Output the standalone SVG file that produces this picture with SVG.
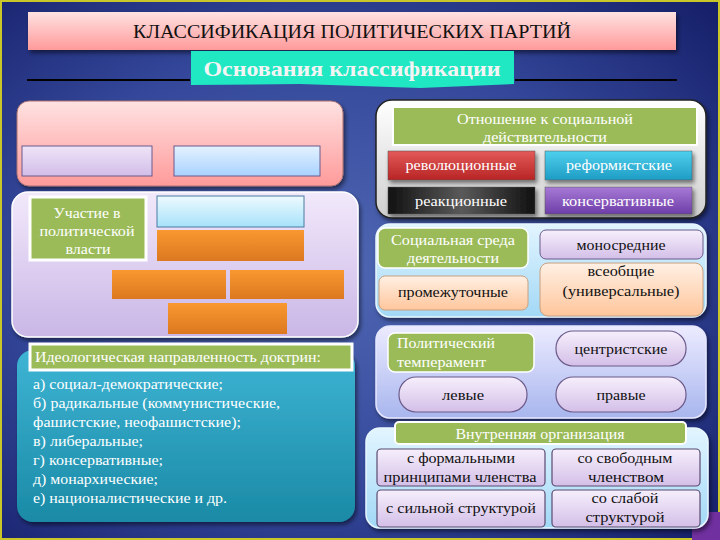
<svg xmlns="http://www.w3.org/2000/svg" width="720" height="540" viewBox="0 0 720 540">
<defs>
<radialGradient id="bg" cx="45%" cy="50%" r="75%">
<stop offset="0" stop-color="#5068b4"/>
<stop offset="0.55" stop-color="#34479a"/>
<stop offset="1" stop-color="#141d66"/>
</radialGradient>
<linearGradient id="gPink" x1="0" y1="0" x2="0" y2="1"><stop offset="0" stop-color="#ffe2e2"/><stop offset="1" stop-color="#ff9a9a"/></linearGradient>
<linearGradient id="gLav" x1="0" y1="0" x2="0" y2="1"><stop offset="0" stop-color="#f2e9fb"/><stop offset="1" stop-color="#c9b6e6"/></linearGradient>
<linearGradient id="gLavS" x1="0" y1="0" x2="0" y2="1"><stop offset="0" stop-color="#efe4f7"/><stop offset="1" stop-color="#d2bde9"/></linearGradient>
<linearGradient id="gBlueS" x1="0" y1="0" x2="0" y2="1"><stop offset="0" stop-color="#e4f2ff"/><stop offset="1" stop-color="#a9d2ff"/></linearGradient>
<linearGradient id="gCyanS" x1="0" y1="0" x2="0" y2="1"><stop offset="0" stop-color="#eefaff"/><stop offset="1" stop-color="#a6e2fa"/></linearGradient>
<linearGradient id="gOrange" x1="0" y1="0" x2="0" y2="1"><stop offset="0" stop-color="#f99830"/><stop offset="1" stop-color="#dc7820"/></linearGradient>
<linearGradient id="gTeal" x1="0" y1="0" x2="0" y2="1"><stop offset="0" stop-color="#3eb4d4"/><stop offset="1" stop-color="#1a8aa6"/></linearGradient>
<linearGradient id="gGrey" x1="0" y1="0" x2="0" y2="1"><stop offset="0" stop-color="#ffffff"/><stop offset="1" stop-color="#cfcfcf"/></linearGradient>
<linearGradient id="gSky" x1="0" y1="0" x2="0" y2="1"><stop offset="0" stop-color="#e2f5ff"/><stop offset="1" stop-color="#a2d8f6"/></linearGradient>
<linearGradient id="gPeri" x1="0" y1="0" x2="0" y2="1"><stop offset="0" stop-color="#ecebff"/><stop offset="1" stop-color="#a8b6ee"/></linearGradient>
<linearGradient id="gRed" x1="0" y1="0" x2="0" y2="1"><stop offset="0" stop-color="#e35a5a"/><stop offset="1" stop-color="#b82424"/></linearGradient>
<linearGradient id="gCyan" x1="0" y1="0" x2="0" y2="1"><stop offset="0" stop-color="#4fd0ee"/><stop offset="1" stop-color="#1e9cc4"/></linearGradient>
<linearGradient id="gBlack" x1="0" y1="0" x2="1" y2="0"><stop offset="0" stop-color="#111"/><stop offset="0.5" stop-color="#5a5a5a"/><stop offset="1" stop-color="#111"/></linearGradient>
<linearGradient id="gPurple" x1="0" y1="0" x2="0" y2="1"><stop offset="0" stop-color="#a77ad6"/><stop offset="1" stop-color="#6e3ea8"/></linearGradient>
<linearGradient id="gPeach" x1="0" y1="0" x2="0" y2="1"><stop offset="0" stop-color="#fff0e4"/><stop offset="1" stop-color="#ffc69c"/></linearGradient>
<linearGradient id="gPill" x1="0" y1="0" x2="0" y2="1"><stop offset="0" stop-color="#f6effc"/><stop offset="1" stop-color="#d4bfe8"/></linearGradient>
<filter id="sh" x="-10%" y="-10%" width="120%" height="130%"><feDropShadow dx="2" dy="3" stdDeviation="2" flood-color="#000" flood-opacity="0.5"/></filter>
</defs>
<style>
.t{font-family:"Liberation Serif","Times New Roman",serif;font-size:15px;}
.w{fill:#ffffff;}
.k{fill:#111111;}
.c{text-anchor:middle;}
.green{fill:#9bbb59;stroke:#ffffff;stroke-width:3;}
.btn{stroke:#555;stroke-width:0.5;}
.lav{fill:url(#gPill);stroke:#6b5a8a;stroke-width:1.2;}
.title{font-family:"Liberation Serif","Times New Roman",serif;font-size:19px;fill:#111;text-anchor:middle;}
.sub{font-family:"Liberation Serif","Times New Roman",serif;font-size:22px;font-weight:bold;fill:#f4f4f4;text-anchor:middle;}
</style>

<rect x="0" y="0" width="720" height="540" fill="url(#bg)"/>
<rect x="1" y="1" width="718" height="538" fill="none" stroke="#c9c62a" stroke-width="2"/>
<rect x="692" y="512" width="28" height="28" fill="#7030a0"/>

<g id="title">
<rect x="28" y="12" width="648" height="38" fill="url(#gPink)" filter="url(#sh)"/>
<text class="title" x="352" y="38" textLength="438" lengthAdjust="spacingAndGlyphs">КЛАССИФИКАЦИЯ ПОЛИТИЧЕСКИХ ПАРТИЙ</text>
</g>

<g id="connectors">
<path d="M27,80 L190,80 M515,80 L677,80" stroke="#000" stroke-width="2" fill="none"/>
<path d="M112,299 L226,299 M230,299 L344,299 M112,334 L287,334" stroke="#222" stroke-width="1.2" fill="none"/>
</g>

<g id="subtitle">
<path d="M191,51 L514,51 L514,84 L420,88 L300,84 L191,85 Z" fill="#1fe8c2"/>
<text class="sub" x="352" y="76" textLength="297" lengthAdjust="spacingAndGlyphs">Основания классификации</text>
</g>

<g id="topleft">
<rect x="17" y="101" width="326" height="85" rx="12" fill="url(#gPink)" stroke="#a87070" stroke-width="1" filter="url(#sh)"/>
<rect x="22" y="146" width="130" height="30" fill="url(#gLavS)" stroke="#6a5a8c" stroke-width="1"/>
<rect x="174" y="146" width="146" height="30" fill="url(#gBlueS)" stroke="#6a5a8c" stroke-width="1"/>
</g>

<g id="participation">
<rect x="12" y="192" width="346" height="145" rx="16" fill="url(#gLav)" stroke="#ffffff" stroke-width="1.5" filter="url(#sh)"/>
<rect x="30" y="197" width="116" height="63" class="green"/>
<text class="t w c" x="87" y="218" textLength="67" lengthAdjust="spacingAndGlyphs">Участие в</text>
<text class="t w c" x="87" y="236" textLength="95" lengthAdjust="spacingAndGlyphs">политической</text>
<text class="t w c" x="88" y="254" textLength="45" lengthAdjust="spacingAndGlyphs">власти</text>
<rect x="157" y="196" width="147" height="31" fill="url(#gCyanS)" stroke="#4a7aa0" stroke-width="1"/>
<rect x="157" y="230" width="147" height="31" fill="url(#gOrange)"/>
<rect x="112" y="270" width="114" height="29" fill="url(#gOrange)"/>
<rect x="230" y="270" width="114" height="29" fill="url(#gOrange)"/>
<rect x="168" y="303" width="119" height="31" fill="url(#gOrange)"/>
</g>

<g id="ideology">
<rect x="17" y="350" width="338" height="172" rx="16" fill="url(#gTeal)" filter="url(#sh)"/>
<rect x="30" y="344" width="322" height="26" class="green"/>
<text class="t w" x="35" y="362" textLength="286" lengthAdjust="spacingAndGlyphs">Идеологическая направленность доктрин:</text>
<text class="t w" x="33" y="389" textLength="190" lengthAdjust="spacingAndGlyphs">а) социал-демократические;</text>
<text class="t w" x="33" y="408" textLength="247" lengthAdjust="spacingAndGlyphs">б) радикальные (коммунистические,</text>
<text class="t w" x="33" y="427" textLength="208" lengthAdjust="spacingAndGlyphs">фашистские, неофашистские);</text>
<text class="t w" x="33" y="446" textLength="110" lengthAdjust="spacingAndGlyphs">в) либеральные;</text>
<text class="t w" x="33" y="465" textLength="130" lengthAdjust="spacingAndGlyphs">г) консервативные;</text>
<text class="t w" x="33" y="484" textLength="125" lengthAdjust="spacingAndGlyphs">д) монархические;</text>
<text class="t w" x="33" y="503" textLength="194" lengthAdjust="spacingAndGlyphs">е) националистические и др.</text>
</g>

<g id="attitude">
<rect x="376" y="100" width="330" height="118" rx="16" fill="url(#gGrey)" stroke="#222" stroke-width="1.5" filter="url(#sh)"/>
<rect x="393" y="107" width="304" height="38" fill="#9bbb59" stroke="#ffffff" stroke-width="2"/>
<text class="t w c" x="545" y="124" textLength="176" lengthAdjust="spacingAndGlyphs">Отношение к социальной</text>
<text class="t w c" x="545" y="142" textLength="124" lengthAdjust="spacingAndGlyphs">действительности</text>
<rect x="388" y="151" width="147" height="29" fill="url(#gRed)" class="btn" filter="url(#sh)"/>
<text class="t w c" x="461" y="170" textLength="111" lengthAdjust="spacingAndGlyphs">революционные</text>
<rect x="545" y="151" width="147" height="29" fill="url(#gCyan)" class="btn" filter="url(#sh)"/>
<text class="t w c" x="619" y="170" textLength="106" lengthAdjust="spacingAndGlyphs">реформистские</text>
<rect x="388" y="187" width="147" height="27" fill="url(#gBlack)" class="btn" filter="url(#sh)"/>
<text class="t w c" x="461" y="206" textLength="92" lengthAdjust="spacingAndGlyphs">реакционные</text>
<rect x="545" y="187" width="147" height="27" fill="url(#gPurple)" class="btn" filter="url(#sh)"/>
<text class="t w c" x="618" y="206" textLength="112" lengthAdjust="spacingAndGlyphs">консервативные</text>
</g>

<g id="social">
<rect x="376" y="224" width="330" height="93" rx="14" fill="url(#gSky)" stroke="#e8f6ff" stroke-width="1.5" filter="url(#sh)"/>
<rect x="378" y="228" width="150" height="40" rx="7" fill="#9bbb59" stroke="#ffffff" stroke-width="1.5"/>
<text class="t w c" x="453" y="245" textLength="124" lengthAdjust="spacingAndGlyphs">Социальная среда</text>
<text class="t w c" x="453" y="263" textLength="92" lengthAdjust="spacingAndGlyphs">деятельности</text>
<rect x="540" y="230" width="163" height="29" rx="6" fill="url(#gPill)" stroke="#6b5a8a" stroke-width="1"/>
<text class="t k c" x="621" y="250" textLength="89" lengthAdjust="spacingAndGlyphs">моносредние</text>
<rect x="379" y="276" width="149" height="34" rx="6" fill="url(#gPeach)" stroke="#c8a080" stroke-width="1"/>
<text class="t k c" x="453" y="297" textLength="110" lengthAdjust="spacingAndGlyphs">промежуточные</text>
<rect x="540" y="263" width="163" height="53" rx="8" fill="url(#gPeach)" stroke="#c8a080" stroke-width="1"/>
<text class="t k c" x="621" y="276" textLength="67" lengthAdjust="spacingAndGlyphs">всеобщие</text>
<text class="t k c" x="621" y="296" textLength="117" lengthAdjust="spacingAndGlyphs">(универсальные)</text>
</g>

<g id="temperament">
<rect x="376" y="326" width="330" height="92" rx="14" fill="url(#gPeri)" stroke="#e6e6ff" stroke-width="1.5" filter="url(#sh)"/>
<rect x="388" y="333" width="146" height="39" rx="7" fill="#9bbb59" stroke="#ffffff" stroke-width="1.5"/>
<text class="t w" x="397" y="348" textLength="98" lengthAdjust="spacingAndGlyphs">Политический</text>
<text class="t w" x="397" y="367" textLength="89" lengthAdjust="spacingAndGlyphs">темперамент</text>
<rect x="556" y="331" width="130" height="35" rx="17" class="lav"/>
<text class="t k c" x="621" y="354" textLength="93" lengthAdjust="spacingAndGlyphs">центристские</text>
<rect x="399" y="377" width="128" height="35" rx="17" class="lav"/>
<text class="t k c" x="463" y="400" textLength="42" lengthAdjust="spacingAndGlyphs">левые</text>
<rect x="556" y="377" width="130" height="35" rx="17" class="lav"/>
<text class="t k c" x="621" y="400" textLength="49" lengthAdjust="spacingAndGlyphs">правые</text>
</g>

<g id="organization">
<rect x="366" y="428" width="342" height="100" rx="14" fill="url(#gSky)" stroke="#e8f6ff" stroke-width="1.5" filter="url(#sh)"/>
<rect x="395" y="422" width="291" height="22" rx="4" fill="#9bbb59" stroke="#ffffff" stroke-width="2"/>
<text class="t w c" x="540" y="439" textLength="169" lengthAdjust="spacingAndGlyphs">Внутренняя организация</text>
<rect x="377" y="449" width="168" height="37" rx="4" fill="url(#gPill)" stroke="#5a4a70" stroke-width="1.2"/>
<text class="t k c" x="461" y="463" textLength="108" lengthAdjust="spacingAndGlyphs">с формальными</text>
<text class="t k c" x="460" y="482" textLength="153" lengthAdjust="spacingAndGlyphs">принципами членства</text>
<rect x="552" y="449" width="148" height="37" rx="4" fill="url(#gPill)" stroke="#5a4a70" stroke-width="1.2"/>
<text class="t k c" x="625" y="463" textLength="95" lengthAdjust="spacingAndGlyphs">со свободным</text>
<text class="t k c" x="626" y="482" textLength="76" lengthAdjust="spacingAndGlyphs">членством</text>
<rect x="377" y="490" width="168" height="37" rx="4" fill="url(#gPill)" stroke="#5a4a70" stroke-width="1.2"/>
<text class="t k c" x="461" y="513" textLength="150" lengthAdjust="spacingAndGlyphs">с сильной структурой</text>
<rect x="552" y="490" width="148" height="37" rx="4" fill="url(#gPill)" stroke="#5a4a70" stroke-width="1.2"/>
<text class="t k c" x="625" y="503" textLength="67" lengthAdjust="spacingAndGlyphs">со слабой</text>
<text class="t k c" x="625" y="522" textLength="79" lengthAdjust="spacingAndGlyphs">структурой</text>
</g>
</svg>
